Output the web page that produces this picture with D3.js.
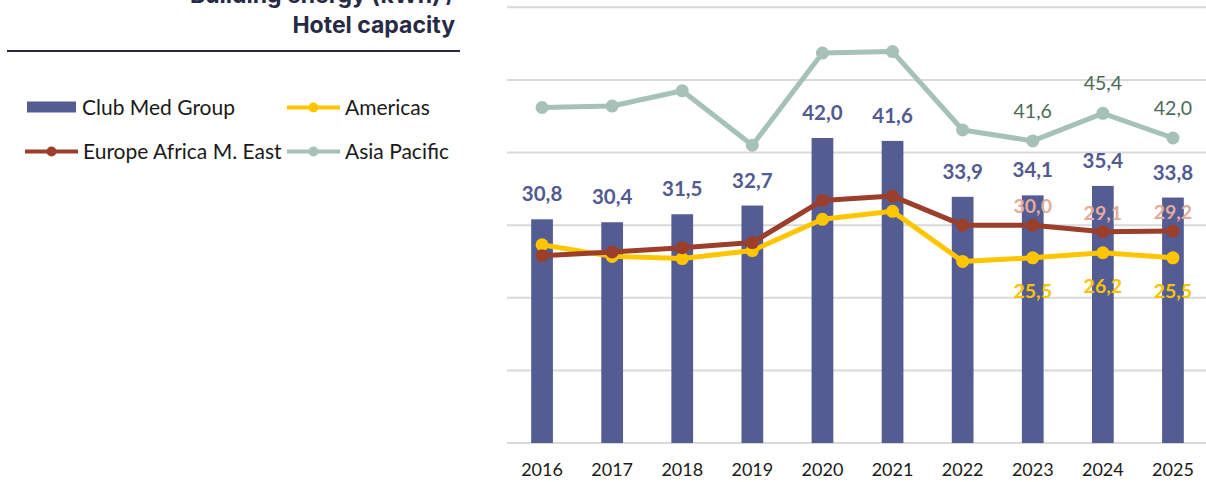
<!DOCTYPE html>
<html>
<head>
<meta charset="utf-8">
<script src="https://cdn.jsdelivr.net/npm/d3@7"></script>
<style>
  html, body { margin: 0; padding: 0; background: #fff; }
  svg { display: block; font-family: Lato, "Open Sans", sans-serif; }
</style>
</head>
<body>
<div id="chart"></div>
<script>
var years = ['2016', '2017', '2018', '2019', '2020', '2021', '2022', '2023', '2024', '2025'];
var clubMed = [30.8, 30.4, 31.5, 32.7, 42.0, 41.6, 33.9, 34.1, 35.4, 33.8];
var americas = [27.3, 25.7, 25.4, 26.5, 30.8, 31.9, 25.0, 25.5, 26.2, 25.5];
var eame = [25.8, 26.3, 26.9, 27.6, 33.4, 34.0, 30.0, 30.0, 29.1, 29.2];
var asiaPacific = [46.2, 46.4, 48.5, 41.0, 53.7, 53.9, 43.1, 41.6, 45.4, 42.0];
var yTicks = [0, 10, 20, 30, 40, 50, 60];
var labelledYears = ['2023', '2024', '2025'];
var titleLines = ['Building energy (kWh) /', 'Hotel capacity'];

var W = 1206, H = 482;
var svg = d3.select('#chart').append('svg').attr('width', W).attr('height', H);

var fmt = function(v) { return d3.format('.1f')(v).replace('.', ','); };

// scales
var x = d3.scaleBand().domain(years).range([507, 1208]).paddingInner(0.69).paddingOuter(0.345);
var y = d3.scaleLinear().domain([0, 60]).range([443, 7.3]);
var cx = function(d, i) { return x(years[i]) + x.bandwidth() / 2; };

// gridlines
svg.append('g').selectAll('line').data(yTicks).enter().append('line')
  .attr('x1', 507).attr('x2', W)
  .attr('y1', function(d) { return y(d); }).attr('y2', function(d) { return y(d); })
  .attr('stroke', '#d9d9d9').attr('stroke-width', 2);

// x axis
var xAxis = svg.append('g').attr('transform', 'translate(0,443)')
  .call(d3.axisBottom(x).tickSize(0).tickPadding(20));
xAxis.select('.domain').remove();
xAxis.selectAll('text').attr('font-size', 18).attr('fill', '#1a1a1a').attr('font-family', 'Lato, sans-serif');

// bars
svg.append('g').selectAll('rect').data(clubMed).enter().append('rect')
  .attr('x', function(d, i) { return x(years[i]); })
  .attr('width', x.bandwidth())
  .attr('y', function(d) { return y(d); })
  .attr('height', function(d) { return y(0) - y(d); })
  .attr('fill', '#545c94');

svg.append('g').selectAll('text').data(clubMed).enter().append('text')
  .attr('x', cx)
  .attr('y', function(d) { return y(d) - 18; })
  .attr('text-anchor', 'middle')
  .attr('font-size', 20.5).attr('font-weight', 'bold').attr('fill', '#525a92')
  .text(fmt);

// lines
var series = [
  { name: 'Americas', values: americas, color: '#ffc600' },
  { name: 'Europe Africa M. East', values: eame, color: '#9b3f2b' },
  { name: 'Asia Pacific', values: asiaPacific, color: '#a6c1b7' }
];
var line = d3.line().x(cx).y(function(d) { return y(d); });

// draw Asia Pacific, Americas, then EAME on top
[series[2], series[0], series[1]].forEach(function(s) {
  var g = svg.append('g');
  g.append('path').datum(s.values).attr('d', line)
    .attr('fill', 'none').attr('stroke', s.color).attr('stroke-width', 5)
    .attr('stroke-linejoin', 'round');
  g.selectAll('circle').data(s.values).enter().append('circle')
    .attr('cx', cx).attr('cy', function(d) { return y(d); })
    .attr('r', 6.5).attr('fill', s.color);
});

// line labels for last three years
function lineLabels(values, dy, color, weight, size) {
  var pts = values.map(function(v, i) { return { year: years[i], v: v }; })
    .filter(function(p) { return labelledYears.indexOf(p.year) >= 0; });
  svg.append('g').selectAll('text').data(pts).enter().append('text')
    .attr('x', function(p) { return x(p.year) + x.bandwidth() / 2; })
    .attr('y', function(p) { return y(p.v) + dy; })
    .attr('text-anchor', 'middle')
    .attr('font-size', size).attr('font-weight', weight).attr('fill', color)
    .text(function(p) { return fmt(p.v); });
}
lineLabels(asiaPacific, -23, '#4b6a58', 'normal', 19.5);
lineLabels(eame, -12, '#e3ab9a', 'bold', 19.5);
lineLabels(americas, 40, '#f7c200', 'bold', 19.5);

// title
svg.append('g').selectAll('text').data(titleLines).enter().append('text')
  .attr('x', 455).attr('y', function(d, i) { return 3 + i * 29.5; })
  .attr('text-anchor', 'end')
  .attr('font-family', 'Inter, sans-serif').attr('font-size', 23).attr('font-weight', 'bold')
  .attr('fill', '#272a45')
  .text(function(d) { return d; });
svg.append('line').attr('x1', 7).attr('x2', 460).attr('y1', 51).attr('y2', 51)
  .attr('stroke', '#272a45').attr('stroke-width', 2);

// legend
var legend = [
  { name: 'Club Med Group', color: '#545c94', bar: true, lx: 27, ly: 107.5 },
  { name: 'Americas', color: series[0].color, lx: 287, ly: 107.5 },
  { name: 'Europe Africa M. East', color: series[1].color, lx: 25, ly: 151.5 },
  { name: 'Asia Pacific', color: series[2].color, lx: 287, ly: 151.5 }
];
var lg = svg.append('g').selectAll('g').data(legend).enter().append('g')
  .attr('transform', function(d) { return 'translate(' + d.lx + ',' + d.ly + ')'; });
lg.filter(function(d) { return d.bar; }).append('rect')
  .attr('x', 0).attr('y', -6).attr('width', 49).attr('height', 11).attr('fill', function(d) { return d.color; });
var lineItems = lg.filter(function(d) { return !d.bar; });
lineItems.append('line').attr('x1', 0).attr('x2', 53).attr('y1', 0).attr('y2', 0)
  .attr('stroke', function(d) { return d.color; }).attr('stroke-width', 4);
lineItems.append('circle').attr('cx', 26.5).attr('cy', 0).attr('r', 5)
  .attr('fill', function(d) { return d.color; });
lg.append('text')
  .attr('x', function(d) { return d.bar ? 55 : 58; })
  .attr('y', 7.5)
  .attr('font-size', 21).attr('fill', '#1a1a1a')
  .text(function(d) { return d.name; });
</script>
</body>
</html>
